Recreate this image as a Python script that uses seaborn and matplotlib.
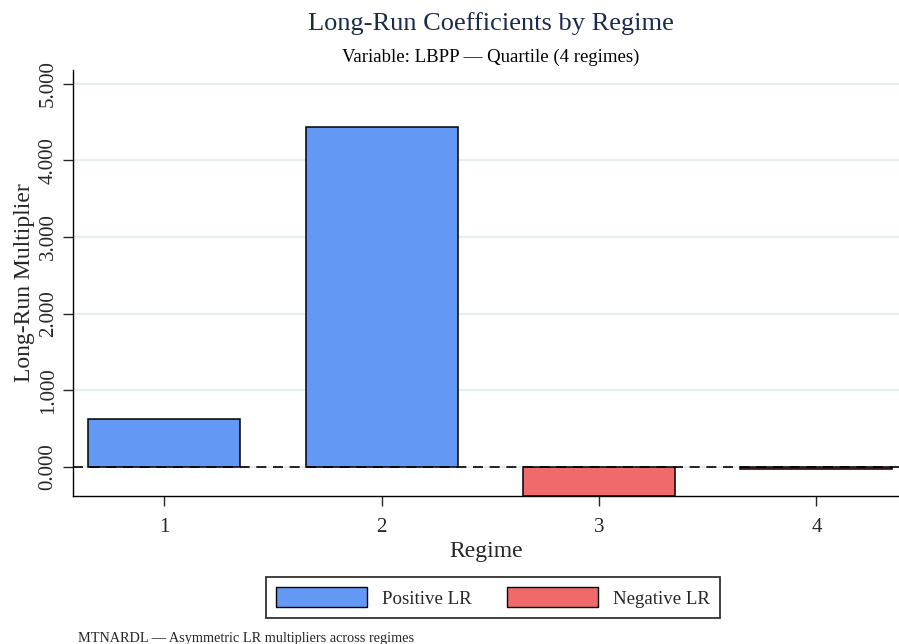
import pandas as pd
import matplotlib
matplotlib.use("Agg")
import matplotlib.pyplot as plt
import seaborn as sns
from matplotlib.patches import Patch

# values
regimes = ["1", "2", "3", "4"]
lr_values = [0.627, 4.44, -0.38, -0.03]
series_names = ["Positive LR", "Negative LR"]
series_colors = ["#6399F5", "#F06A6C"]
yticks = [0, 1, 2, 3, 4, 5]

df = pd.DataFrame({"regime": regimes, "value": lr_values})
df["sign"] = ["Positive LR" if v >= 0 else "Negative LR" for v in df["value"]]

sns.set_style("white")
plt.rcParams["font.family"] = ["Liberation Serif", "DejaVu Serif"]

fig = plt.figure(figsize=(8.99, 6.44), dpi=100)
ax = fig.add_axes([73 / 899, 1 - 496 / 644, 1 - 73 / 899, (496 - 70) / 644])

sns.barplot(data=df, x="regime", y="value", hue="sign", order=regimes,
            hue_order=series_names, palette=series_colors, dodge=False,
            width=0.7, edgecolor="black", linewidth=1.1, saturation=1,
            legend=False, ax=ax, zorder=2)

ax.axhline(0, color="black", linestyle=(0, (6, 4)), linewidth=1.2, zorder=3)

ax.set_ylim(-0.38, 5.18)
ax.set_xlim(-0.42, 3.38)
ax.set_yticks(yticks)
ax.set_yticklabels([f"{t:.3f}" for t in yticks], rotation=90, va="center")
ax.yaxis.grid(True, color="#e6eef0", linewidth=1.6, zorder=0)
ax.set_axisbelow(True)

for s in ["top", "right"]:
    ax.spines[s].set_visible(False)
for s in ["left", "bottom"]:
    ax.spines[s].set_color("black")
    ax.spines[s].set_linewidth(1.0)

ax.tick_params(axis="y", length=7, width=1, pad=4, labelsize=15, left=True)
ax.tick_params(axis="x", length=7, width=1, pad=9, labelsize=15, bottom=True)

ax.set_xlabel("Regime", fontsize=17, labelpad=3)
ax.set_ylabel("Long-Run Multiplier", fontsize=17, labelpad=3)

fig.text(491 / 899, 1 - 24 / 644, "Long-Run Coefficients by Regime",
         ha="center", va="center", fontsize=19, color="#1a2a4a")
fig.text(491 / 899, 1 - 57 / 644, "Variable: LBPP \u2014 Quartile (4 regimes)",
         ha="center", va="center", fontsize=13.5, color="black")

handles = [Patch(facecolor=c, edgecolor="black", linewidth=1.0, label=n)
           for n, c in zip(series_names, series_colors)]
leg = fig.legend(handles=handles, loc="center", ncol=2,
                 bbox_to_anchor=(493 / 899, 1 - 597.5 / 644),
                 fontsize=13.6, frameon=True, fancybox=False,
                 handlelength=4.8, handleheight=1.25, handletextpad=0.8,
                 columnspacing=1.9, borderpad=0.55, borderaxespad=0)
leg.get_frame().set_edgecolor("black")
leg.get_frame().set_linewidth(1.3)

fig.text(78 / 899, 2 / 644, "MTNARDL \u2014 Asymmetric LR multipliers across regimes",
         ha="left", va="baseline", fontsize=10.3)

fig.savefig("out.png", dpi=100)
